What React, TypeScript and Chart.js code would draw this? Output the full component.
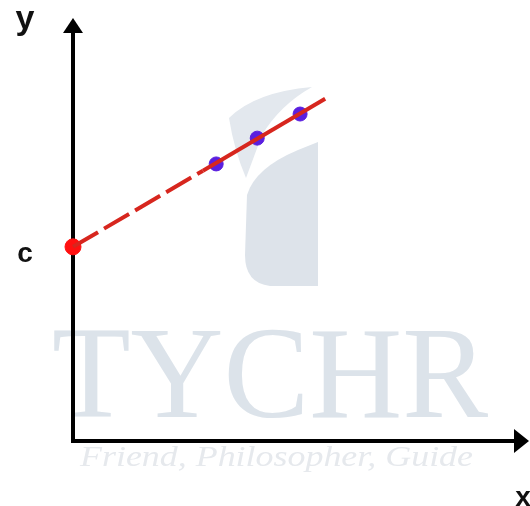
import React, { useEffect, useRef } from "react";
import { Chart, registerables } from "chart.js";

Chart.register(...registerables);

// ---- data (in chart units, x: 0..10, y: 0..10) ----
const dashedX = [0, 2.85];
const dashedY = [4.59, 6.39];
const solidX = [2.85, 5.53];
const solidY = [6.39, 8.09];
const pointX = [3.14, 4.04, 4.98];
const pointY = [6.55, 7.16, 7.73];
const interceptX = [0];
const interceptY = [4.59];
const axisNames = ["x", "y"];
const interceptName = "c";
const watermarkTitle = "TYCHR";
const watermarkTagline = "Friend, Philosopher, Guide";

const toPts = (xs: number[], ys: number[]) => xs.map((x, i) => ({ x, y: ys[i] }));

const diagramPlugin = {
  id: "diagram",
  beforeDraw(chart: any) {
    const { ctx, width, height } = chart;
    ctx.save();
    ctx.fillStyle = "#ffffff";
    ctx.fillRect(0, 0, width, height);
    ctx.restore();
  },
  beforeDatasetsDraw(chart: any) {
    const { ctx, chartArea, scales } = chart;
    const xs = scales.x;
    const ys = scales.y;
    const ox = xs.getPixelForValue(0);
    const oy = ys.getPixelForValue(0);
    ctx.save();

    // logo watermark
    ctx.fillStyle = "#dde3ea";
    ctx.beginPath();
    ctx.moveTo(298, 150);
    ctx.lineTo(318, 142);
    ctx.lineTo(318, 286);
    ctx.lineTo(270, 286);
    ctx.quadraticCurveTo(245, 283, 245, 255);
    ctx.lineTo(247, 195);
    ctx.quadraticCurveTo(255, 168, 298, 150);
    ctx.closePath();
    ctx.fill();
    ctx.fillStyle = "#e3e8ee";
    ctx.beginPath();
    ctx.moveTo(229, 118);
    ctx.quadraticCurveTo(255, 92, 312, 87);
    ctx.quadraticCurveTo(280, 105, 262, 135);
    ctx.lineTo(246, 178);
    ctx.quadraticCurveTo(234, 150, 229, 118);
    ctx.closePath();
    ctx.fill();

    // title watermark
    ctx.fillStyle = "#dce3ea";
    ctx.font = '131px "Liberation Serif"';
    ctx.textBaseline = "alphabetic";
    const tw = ctx.measureText(watermarkTitle).width;
    ctx.save();
    ctx.translate(52, 417);
    ctx.scale(436 / tw, 1);
    ctx.fillText(watermarkTitle, 0, 0);
    ctx.restore();

    ctx.fillStyle = "#e6e9ed";
    ctx.font = 'italic 30px "Liberation Serif"';
    const gw = ctx.measureText(watermarkTagline).width;
    ctx.save();
    ctx.translate(80, 466);
    ctx.scale(393 / gw, 1);
    ctx.fillText(watermarkTagline, 0, 0);
    ctx.restore();

    // axes
    ctx.strokeStyle = "#000000";
    ctx.fillStyle = "#000000";
    ctx.lineWidth = 4;
    ctx.lineCap = "butt";
    ctx.beginPath();
    ctx.moveTo(ox, oy + 2);
    ctx.lineTo(ox, chartArea.top + 12);
    ctx.moveTo(ox - 2, oy);
    ctx.lineTo(chartArea.right - 12, oy);
    ctx.stroke();
    // y arrow
    ctx.beginPath();
    ctx.moveTo(ox, chartArea.top);
    ctx.lineTo(ox - 10, chartArea.top + 15);
    ctx.lineTo(ox + 10, chartArea.top + 15);
    ctx.closePath();
    ctx.fill();
    // x arrow
    ctx.beginPath();
    ctx.moveTo(chartArea.right, oy);
    ctx.lineTo(chartArea.right - 15, oy - 12);
    ctx.lineTo(chartArea.right - 15, oy + 12);
    ctx.closePath();
    ctx.fill();

    // labels
    ctx.fillStyle = "#111111";
    ctx.textAlign = "center";
    ctx.font = 'bold 34px "Liberation Sans"';
    ctx.fillText(axisNames[1], 25, 29);
    ctx.font = 'bold 28px "Liberation Sans"';
    ctx.fillText(interceptName, 25, ys.getPixelForValue(interceptY[0]) + 15);
    ctx.fillText(axisNames[0], 523, 506);
    ctx.restore();
  },
};

export default function App() {
  const ref = useRef<HTMLCanvasElement | null>(null);
  useEffect(() => {
    document.body.style.margin = "0";
    const canvas = ref.current!;
    const chart = new Chart(canvas, {
      type: "scatter",
      data: {
        datasets: [
          {
            data: toPts(dashedX, dashedY),
            showLine: true,
            borderColor: "#d7261e",
            borderWidth: 4,
            borderDash: [29, 7],
            pointRadius: 0,
            clip: false,
          },
          {
            data: toPts(solidX, solidY),
            showLine: true,
            borderColor: "#d7261e",
            borderWidth: 4,
            pointRadius: 0,
            clip: false,
          },
          {
            data: toPts(pointX, pointY),
            showLine: false,
            pointRadius: 7,
            pointBackgroundColor: "#5a1fe0",
            pointBorderColor: "#5a1fe0",
            pointBorderWidth: 1,
            clip: false,
          },
          {
            data: toPts(interceptX, interceptY),
            showLine: false,
            pointRadius: 8,
            pointBackgroundColor: "#ff1010",
            pointBorderColor: "#ff1010",
            pointBorderWidth: 1,
            clip: false,
          },
        ],
      },
      options: {
        animation: false,
        responsive: false,
        devicePixelRatio: 1,
        layout: { autoPadding: false, padding: { left: 73, right: 1, top: 18, bottom: 65 } },
        plugins: { legend: { display: false }, tooltip: { enabled: false } },
        scales: {
          x: { type: "linear", min: 0, max: 10, display: false },
          y: { type: "linear", min: 0, max: 10, display: false },
        },
      },
      plugins: [diagramPlugin],
    });
    return () => chart.destroy();
  }, []);
  return (
    <div style={{ position: "absolute", left: 0, top: 0, width: 530, height: 506 }}>
      <canvas ref={ref} width={530} height={506} />
    </div>
  );
}
